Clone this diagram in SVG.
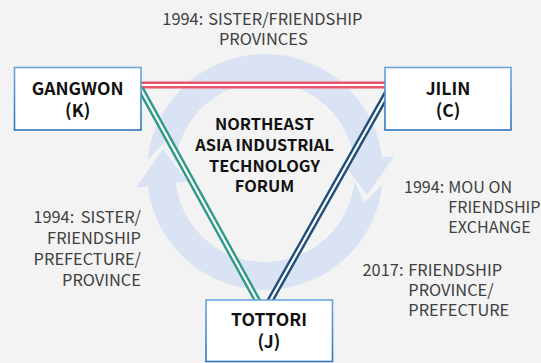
<svg xmlns="http://www.w3.org/2000/svg" width="541" height="363" viewBox="0 0 541 363">
<defs>
<linearGradient id="bd" x1="0" y1="0" x2="0" y2="1">
<stop offset="0" stop-color="#6aa7dc"/>
<stop offset="1" stop-color="#2e75b6"/>
</linearGradient>
<style>
.bg{fill:#f3f3f3}
.ring{fill:#dae3f3}
.box{fill:#ffffff;stroke:url(#bd);stroke-width:1.6}
.nt{font-family:"Noto Sans CJK KR","Noto Sans",sans-serif;font-weight:bold;font-size:17.5px;fill:#111111;text-anchor:middle}
.ct{font-family:"Noto Sans CJK KR","Noto Sans",sans-serif;font-weight:bold;font-size:16.4px;fill:#111111;text-anchor:middle}
.lb{font-family:"Noto Sans CJK KR","Noto Sans",sans-serif;font-size:16.4px;fill:#404040}
.sm{font-size:16.1px}
.wide{stroke-width:7;fill:none}
.mid{stroke:#ffffff;stroke-width:2.2;fill:none}
</style>
</defs>
<rect class="bg" x="0" y="0" width="541" height="363"/>
<g id="cycle">
<path class="ring" d="M147.65,159.67 A118,118 0 0 1 382.12,157.62 L394.03,156.16 L367,195 L342.42,162.49 L354.33,161.03 A90,90 0 0 0 175.49,162.59 L165.54,141.59 Z"/>
<path class="ring" d="M382.35,184.33 A118,118 0 0 1 147.88,186.38 L135.97,187.84 L163,149 L187.58,181.51 L175.67,182.97 A90,90 0 0 0 354.51,181.41 L364.46,202.41 Z"/>
</g>
<g id="connectors">
<g id="gangwon-jilin">
<line class="wide" x1="138" y1="85" x2="388" y2="85" stroke="#e9556f"/>
<line class="mid" x1="138" y1="85" x2="388" y2="85"/>
</g>
<g id="gangwon-tottori">
<line class="wide" x1="140.5" y1="88.5" x2="259" y2="303.5" stroke="#2f9a86"/>
<line class="mid" x1="140.5" y1="88.5" x2="259" y2="303.5"/>
</g>
<g id="jilin-tottori">
<line class="wide" x1="388.5" y1="90.7" x2="268.8" y2="303" stroke="#1f4e79"/>
<line class="mid" x1="388.5" y1="90.7" x2="268.8" y2="303"/>
</g>
</g>
<g id="gangwon">
<rect class="box" x="14.5" y="67.5" width="126.5" height="62.5"/>
<text class="nt"><tspan x="77.7" y="95">GANGWON</tspan><tspan x="77.7" y="117">(K)</tspan></text>
</g>
<g id="jilin">
<rect class="box" x="385" y="67.5" width="126" height="62.5"/>
<text class="nt"><tspan x="448" y="95">JILIN</tspan><tspan x="448" y="117">(C)</tspan></text>
</g>
<g id="tottori">
<rect class="box" x="206" y="300" width="126.5" height="61.5"/>
<text class="nt"><tspan x="269" y="326">TOTTORI</tspan><tspan x="269" y="348">(J)</tspan></text>
</g>
<g id="forum">
<text class="ct"><tspan x="264.5" y="130">NORTHEAST</tspan><tspan x="264.5" y="150.8">ASIA INDUSTRIAL</tspan><tspan x="264.5" y="171.6">TECHNOLOGY</tspan><tspan x="264.5" y="192.4">FORUM</tspan></text>
</g>
<g id="labels">
<text class="lb"><tspan x="162.3" y="25">1994: </tspan><tspan x="208.3" y="25">SISTER/FRIENDSHIP</tspan><tspan x="263.3" y="45" text-anchor="middle">PROVINCES</tspan></text>
<text class="lb" text-anchor="end"><tspan x="33.3" y="223.3" text-anchor="start">1994: </tspan><tspan x="141" y="223.3">SISTER/</tspan><tspan x="141" y="244.2">FRIENDSHIP</tspan><tspan x="141" y="265.1">PREFECTURE/</tspan><tspan x="141" y="286">PROVINCE</tspan></text>
<text class="lb sm"><tspan x="404" y="192.7">1994: </tspan><tspan x="448.3" y="192.7">MOU ON</tspan><tspan x="448.3" y="212.9">FRIENDSHIP</tspan><tspan x="448.3" y="233.2">EXCHANGE</tspan></text>
<text class="lb"><tspan x="362.5" y="275.6">2017: </tspan><tspan x="408.3" y="275.6">FRIENDSHIP</tspan><tspan x="408.3" y="296">PROVINCE/</tspan><tspan x="408.3" y="316.4">PREFECTURE</tspan></text>
</g>
</svg>
